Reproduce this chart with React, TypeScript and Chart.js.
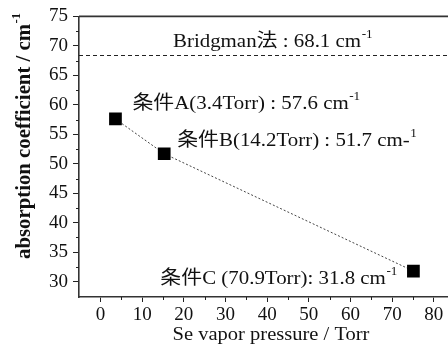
import React, { useEffect, useRef } from 'react';
import { Chart, registerables } from 'chart.js';

Chart.register(...registerables);

// ---- data ----
const pressure = [3.6, 15.3, 75.1];
const absorption = [57.6, 51.7, 31.8];
const bridgmanValue = 68.5;
const xTicks = [0, 10, 20, 30, 40, 50, 60, 70, 80];
const yTicks = [30, 35, 40, 45, 50, 55, 60, 65, 70, 75];
const xMinorTicks = [5, 15, 25, 35, 45, 55, 65, 75];
const yMinorTicks = [32.5, 37.5, 42.5, 47.5, 52.5, 57.5, 62.5, 67.5, 72.5];
const pointLabelMain = ['条件A(3.4Torr) : 57.6 cm', '条件B(14.2Torr) : 51.7 cm-', '条件C (70.9Torr): 31.8 cm'];
const pointLabelSup = ['-1', '1', '-1'];
const bridgmanMain = 'Bridgman法 : 68.1 cm';
const bridgmanSup = '-1';
const xTitle = 'Se vapor pressure / Torr';
const yTitleMain = 'absorption coefficient / cm';
const yTitleSup = '-1';

const SERIF = '"Liberation Serif", "Times New Roman", "Noto Sans CJK JP", serif';
const TEXT_FONT = `19px ${SERIF}`;
const SUP_FONT = `12px ${SERIF}`;
const STRETCH = 1.1;

function drawSupText(
  ctx: CanvasRenderingContext2D,
  main: string,
  sup: string,
  x: number,
  y: number,
  align: 'left' | 'right' | 'center',
  mainFont = TEXT_FONT,
  supFont = SUP_FONT,
  sx = STRETCH,
  supRaise = 7
) {
  ctx.save();
  ctx.textBaseline = 'middle';
  ctx.textAlign = 'left';
  ctx.font = mainFont;
  const wm = ctx.measureText(main).width;
  ctx.font = supFont;
  const ws = sup ? ctx.measureText(sup).width + 0.5 : 0;
  const total = (wm + ws) * sx;
  const start = align === 'left' ? x : align === 'right' ? x - total : x - total / 2;
  ctx.translate(start, y);
  ctx.scale(sx, 1);
  ctx.font = mainFont;
  ctx.fillText(main, 0, 0);
  if (sup) {
    ctx.font = supFont;
    ctx.fillText(sup, wm + 0.5, -supRaise);
  }
  ctx.restore();
}

const decorPlugin = {
  id: 'decor',
  beforeDatasetsDraw(chart: any) {
    const { ctx, chartArea, scales } = chart;
    const xs = scales.x;
    const ys = scales.y;
    ctx.save();
    // top frame line
    ctx.strokeStyle = '#333';
    ctx.lineWidth = 1.6;
    ctx.beginPath();
    ctx.moveTo(chartArea.left, chartArea.top);
    ctx.lineTo(chartArea.right, chartArea.top);
    ctx.stroke();
    // minor ticks
    ctx.lineWidth = 1;
    ctx.strokeStyle = '#222';
    yMinorTicks.forEach((v) => {
      const py = Math.round(ys.getPixelForValue(v)) + 0.5;
      ctx.beginPath();
      ctx.moveTo(chartArea.left - 3, py);
      ctx.lineTo(chartArea.left, py);
      ctx.stroke();
    });
    xMinorTicks.forEach((v) => {
      const px = Math.round(xs.getPixelForValue(v)) + 0.5;
      ctx.beginPath();
      ctx.moveTo(px, chartArea.bottom);
      ctx.lineTo(px, chartArea.bottom + 3);
      ctx.stroke();
    });
    // Bridgman dashed line
    const by = Math.round(ys.getPixelForValue(bridgmanValue)) + 0.5;
    ctx.strokeStyle = '#222';
    ctx.lineWidth = 1;
    ctx.setLineDash([4, 3]);
    ctx.beginPath();
    ctx.moveTo(chartArea.left, by);
    ctx.lineTo(chartArea.right, by);
    ctx.stroke();
    ctx.setLineDash([]);
    ctx.restore();
  },
  afterDraw(chart: any) {
    const { ctx, chartArea, scales } = chart;
    const xs = scales.x;
    const ys = scales.y;
    ctx.save();
    ctx.fillStyle = '#111';
    // Bridgman label
    const by = ys.getPixelForValue(bridgmanValue);
    drawSupText(ctx, bridgmanMain, bridgmanSup, chartArea.left + 94, by - 13, 'left');
    // point labels
    const px = pressure.map((v) => xs.getPixelForValue(v));
    const py = absorption.map((v) => ys.getPixelForValue(v));
    drawSupText(ctx, pointLabelMain[0], pointLabelSup[0], px[0] + 17, py[0] - 15, 'left');
    drawSupText(ctx, pointLabelMain[1], pointLabelSup[1], px[1] + 13, py[1] - 13, 'left');
    drawSupText(ctx, pointLabelMain[2], pointLabelSup[2], px[2] - 16, py[2] + 8, 'right');
    // x title
    drawSupText(ctx, xTitle, '', 271, chartArea.bottom + 38, 'center', TEXT_FONT, SUP_FONT, 1.08);
    // y title (rotated, bold)
    ctx.save();
    ctx.translate(25, 136);
    ctx.rotate(-Math.PI / 2);
    drawSupText(ctx, yTitleMain, yTitleSup, 0, 0, 'center', `bold 20px ${SERIF}`, `bold 12px ${SERIF}`, 1.04, 8);
    ctx.restore();
    ctx.restore();
  },
};

export default function App() {
  const canvasRef = useRef<HTMLCanvasElement | null>(null);

  useEffect(() => {
    document.body.style.margin = '0';
    const canvas = canvasRef.current;
    if (!canvas) return;
    const tickFont = { family: SERIF, size: 19 };
    const chart = new Chart(canvas, {
      type: 'scatter',
      data: {
        datasets: [
          {
            label: 'absorption',
            data: pressure.map((x, i) => ({ x, y: absorption[i] })),
            showLine: true,
            borderColor: '#444',
            borderWidth: 1,
            borderDash: [2, 2],
            pointStyle: 'rect',
            pointRadius: 9,
            pointHoverRadius: 9,
            pointBackgroundColor: '#000',
            pointBorderColor: '#000',
            pointBorderWidth: 0,
          },
        ],
      },
      options: {
        animation: false,
        responsive: false,
        devicePixelRatio: 1,
        layout: { autoPadding: false, padding: { top: 15, right: 0, left: 0, bottom: 0 } },
        plugins: { legend: { display: false }, tooltip: { enabled: false } },
        scales: {
          x: {
            type: 'linear',
            min: -5.15,
            max: 83.4,
            afterBuildTicks: (s: any) => {
              s.ticks = xTicks.map((v) => ({ value: v }));
            },
            afterFit: (s: any) => {
              s.height = 50;
              s.paddingRight = 0;
              s.paddingLeft = 0;
            },
            grid: { drawOnChartArea: false, drawTicks: true, tickLength: 5, color: '#222', lineWidth: 1 },
            border: { display: true, color: '#333', width: 1.6 },
            ticks: { font: tickFont, color: '#111', padding: 2, maxRotation: 0, autoSkip: false },
          },
          y: {
            type: 'linear',
            min: 27.4,
            max: 75,
            afterBuildTicks: (s: any) => {
              s.ticks = yTicks.map((v) => ({ value: v }));
            },
            afterFit: (s: any) => {
              s.width = 79;
            },
            grid: { drawOnChartArea: false, drawTicks: true, tickLength: 6, color: '#222', lineWidth: 1 },
            border: { display: true, color: '#333', width: 1.6 },
            ticks: { font: tickFont, color: '#111', padding: 5, autoSkip: false },
          },
        },
      },
      plugins: [decorPlugin],
    });
    return () => chart.destroy();
  }, []);

  return (
    <div style={{ width: 448, height: 347 }}>
      <canvas ref={canvasRef} width={448} height={347} style={{ display: 'block', width: 448, height: 347 }} />
    </div>
  );
}
